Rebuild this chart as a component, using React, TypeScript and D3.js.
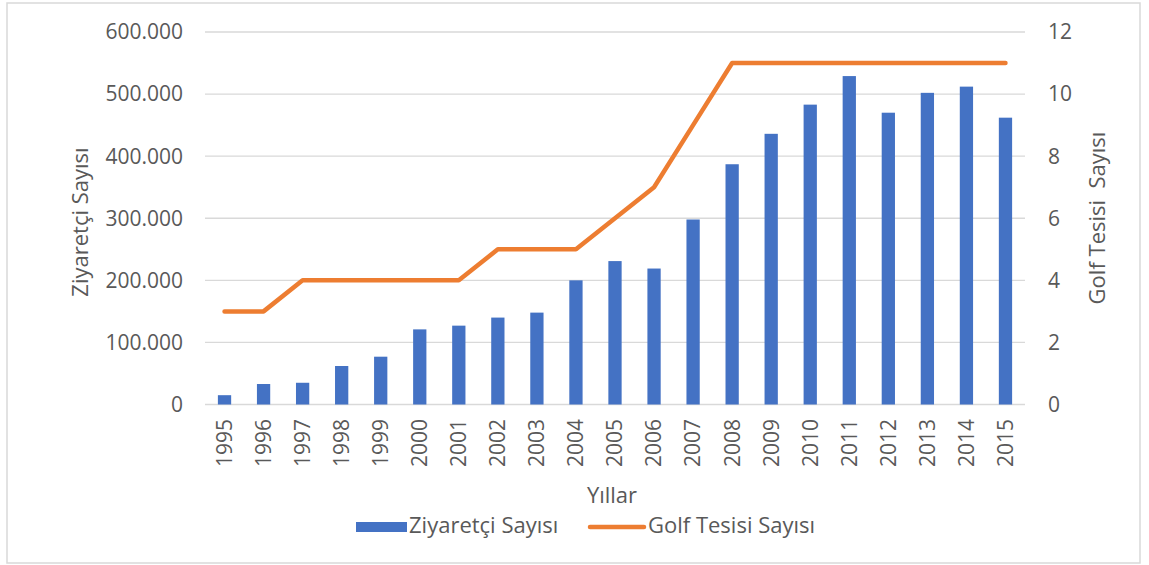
import React from "react";
import * as d3 from "d3";

const years = [
  "1995", "1996", "1997", "1998", "1999", "2000", "2001", "2002", "2003", "2004", "2005",
  "2006", "2007", "2008", "2009", "2010", "2011", "2012", "2013", "2014", "2015",
];
const visitors = [
  15000, 33000, 35000, 62000, 77000, 121000, 127000, 140000, 148000, 200000, 231000,
  219000, 298000, 387000, 436000, 483000, 529000, 470000, 502000, 512000, 462000,
];
const golfCourses = [3, 3, 4, 4, 4, 4, 4, 5, 5, 5, 6, 7, 9, 11, 11, 11, 11, 11, 11, 11, 11];
const leftTicks = [0, 100000, 200000, 300000, 400000, 500000, 600000];
const rightTicks = [0, 2, 4, 6, 8, 10, 12];

const BLUE = "#4472C4";
const ORANGE = "#ED7D31";
const TEXT = "#595959";
const GRID = "#d9d9d9";
const FONT = "'Open Sans', sans-serif";

const App = () => {
  const width = 1149;
  const height = 565;
  const plot = { left: 205, right: 1025, top: 32, bottom: 404.5 };

  // Scales
  const xScale = d3.scaleBand()
    .domain(years)
    .range([plot.left, plot.right])
    .paddingInner(0.66)
    .paddingOuter(0.33);

  const yLeft = d3.scaleLinear().domain([0, 600000]).range([plot.bottom, plot.top]);
  const yRight = d3.scaleLinear().domain([0, 12]).range([plot.bottom, plot.top]);

  const fmt = (v: number) => (v === 0 ? "0" : d3.format(",")(v).replace(/,/g, "."));
  const cx = (d: string) => (xScale(d) as number) + xScale.bandwidth() / 2;

  const line = d3.line<number>()
    .x((_, i) => cx(years[i]))
    .y(d => yRight(d));

  const tickSize = "21px";
  const titleSize = "22px";

  return (
    <svg
      width={width}
      height={height}
      viewBox={`0 0 ${width} ${height}`}
      style={{ position: "absolute", left: 0, top: 0, fontFamily: FONT }}
    >
      <rect x={0} y={0} width={width} height={height} fill="#fff" />
      {/* Chart border */}
      <rect x={7} y={3} width={1133} height={560} fill="none" stroke={GRID} strokeWidth={1.5} />

      {/* Gridlines + left axis */}
      {leftTicks.map((t, i) => (
        <g key={i} transform={`translate(0, ${yLeft(t)})`}>
          <line x1={plot.left} x2={plot.right} stroke={GRID} strokeWidth={1.3} />
          <text x={183} dy="0.35em" textAnchor="end" fill={TEXT} style={{ fontSize: tickSize }}>
            {fmt(t)}
          </text>
        </g>
      ))}

      {/* Right axis */}
      {rightTicks.map((t, i) => (
        <text key={i} x={1048} y={yRight(t)} dy="0.35em" textAnchor="start" fill={TEXT} style={{ fontSize: tickSize }}>
          {t}
        </text>
      ))}

      {/* Bars */}
      {visitors.map((v, i) => (
        <rect
          key={i}
          x={xScale(years[i])}
          y={yLeft(v)}
          width={xScale.bandwidth()}
          height={yLeft(0) - yLeft(v)}
          fill={BLUE}
        />
      ))}

      {/* Line */}
      <path
        d={line(golfCourses) || ""}
        fill="none"
        stroke={ORANGE}
        strokeWidth={4.5}
        strokeLinejoin="round"
        strokeLinecap="round"
      />

      {/* X axis labels */}
      {years.map((d, i) => (
        <text
          key={i}
          transform={`translate(${cx(d)}, 419) rotate(-90)`}
          dy="0.35em"
          textAnchor="end"
          fill={TEXT}
          style={{ fontSize: tickSize }}
        >
          {d}
        </text>
      ))}

      {/* Axis titles */}
      <text x={612} y={503} textAnchor="middle" fill={TEXT} style={{ fontSize: titleSize }}>
        Yıllar
      </text>
      <text
        transform={`translate(80, 222) rotate(-90)`}
        dy="0.35em"
        textAnchor="middle"
        fill={TEXT}
        style={{ fontSize: titleSize }}
      >
        Ziyaretçi Sayısı
      </text>
      <text
        transform={`translate(1097, 218) rotate(-90)`}
        dy="0.35em"
        textAnchor="middle"
        fill={TEXT}
        style={{ fontSize: titleSize, whiteSpace: "pre" }}
      >
        {"Golf Tesisi  Sayısı"}
      </text>

      {/* Legend */}
      <rect x={356} y={522} width={51} height={10} fill={BLUE} />
      <text x={409} y={533} fill={TEXT} style={{ fontSize: titleSize }}>
        Ziyaretçi Sayısı
      </text>
      <line x1={590} x2={644} y1={527} y2={527} stroke={ORANGE} strokeWidth={4.5} strokeLinecap="round" />
      <text x={648} y={533} fill={TEXT} style={{ fontSize: titleSize }}>
        Golf Tesisi Sayısı
      </text>
    </svg>
  );
};

export default App;
